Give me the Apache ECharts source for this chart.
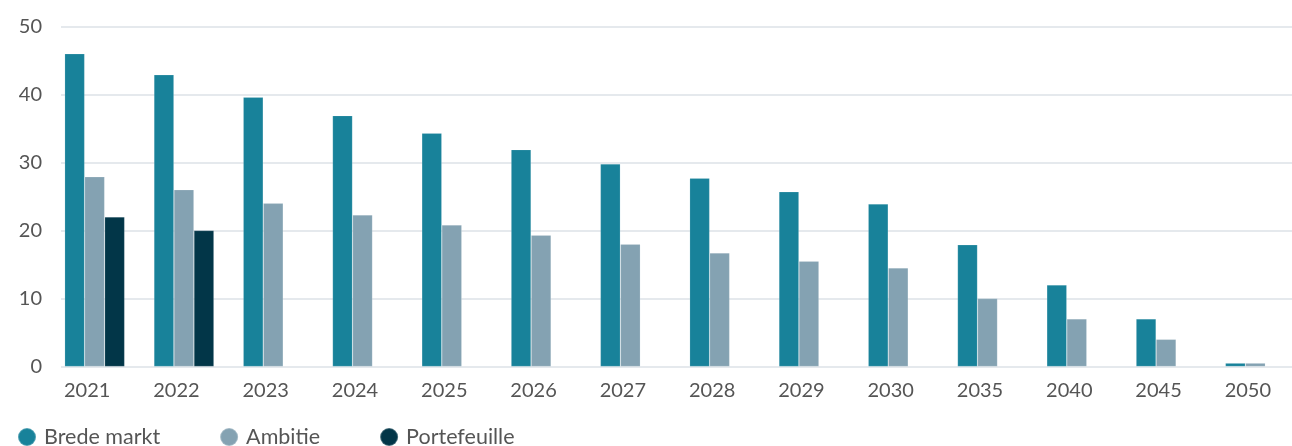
<!DOCTYPE html>
<html>
<head>
<meta charset="utf-8">
<script src="https://cdn.jsdelivr.net/npm/echarts@6/dist/echarts.min.js"></script>
<style>
  html, body { margin: 0; padding: 0; background: #fff; }
  #chart { width: 1292px; height: 446px; }
</style>
</head>
<body>
<div id="chart"></div>
<script>
// jaren op de x-as
var years = ['2021', '2022', '2023', '2024', '2025', '2026', '2027', '2028', '2029', '2030', '2035', '2040', '2045', '2050'];
var bredeMarkt = [46, 42.9, 39.6, 36.9, 34.3, 31.9, 29.8, 27.7, 25.7, 23.9, 17.9, 12, 7, 0.5];
var ambitie = [27.9, 26, 24, 22.3, 20.8, 19.3, 18, 16.7, 15.5, 14.5, 10, 7, 4, 0.5];
var portefeuille = [22, 20, null, null, null, null, null, null, null, null, null, null, null, null];
var yTicks = [0, 10, 20, 30, 40, 50];

var colorList = ['#18829a', '#84a2b2', '#023648'];
var textColor = '#555555';
var font = 'Lato';

var myChart = echarts.init(document.getElementById('chart'));

function barSeries(name, data, color) {
    return {
        name: name,
        type: 'bar',
        xAxisIndex: 0,
        yAxisIndex: 1,
        barWidth: 20,
        barGap: '0%',
        data: data,
        itemStyle: {
            color: color,
            borderColor: 'rgba(255,255,255,0.25)',
            borderWidth: 0.6
        }
    };
}

var option = {
    animation: false,
    textStyle: { fontFamily: font },
    grid: [
        // raster voor de y-as en lijnen
        { left: 61, right: 0, top: 26.5, bottom: 79.5, outerBoundsMode: 'none' },
        // raster voor de staven (loopt iets buiten beeld door)
        { left: 50, width: 1250, top: 26.5, bottom: 79.5, outerBoundsMode: 'none' }
    ],
    legend: {
        left: 17,
        top: 426,
        padding: 0,
        icon: 'circle',
        itemWidth: 18,
        itemHeight: 18,
        itemGap: 59,
        textStyle: { fontFamily: font, fontSize: 21.5, color: textColor, padding: [0, 0, 0, 3] },
        data: ['Brede markt', 'Ambitie', 'Portefeuille']
    },
    xAxis: [
        {
            type: 'category',
            gridIndex: 1,
            data: years,
            axisLine: { show: false },
            axisTick: { show: false },
            axisLabel: {
                fontFamily: font,
                fontSize: 20,
                color: textColor,
                margin: 14,
                padding: [0, 15, 0, 0]
            }
        },
        {
            type: 'value',
            gridIndex: 0,
            show: false
        }
    ],
    yAxis: [
        {
            type: 'value',
            gridIndex: 0,
            min: yTicks[0],
            max: yTicks[yTicks.length - 1],
            interval: 10,
            axisLine: { show: false },
            axisTick: { show: false },
            axisLabel: {
                fontFamily: font,
                fontSize: 20,
                color: textColor,
                margin: 19,
                padding: [0, 0, 6, 0]
            },
            splitLine: { lineStyle: { color: '#dce2e7', width: 1.5 } }
        },
        {
            type: 'value',
            gridIndex: 1,
            min: yTicks[0],
            max: yTicks[yTicks.length - 1],
            show: false,
            splitLine: { show: false }
        }
    ],
    series: [
        barSeries('Brede markt', bredeMarkt, colorList[0]),
        barSeries('Ambitie', ambitie, colorList[1]),
        barSeries('Portefeuille', portefeuille, colorList[2])
    ]
};

myChart.setOption(option);
</script>
</body>
</html>
